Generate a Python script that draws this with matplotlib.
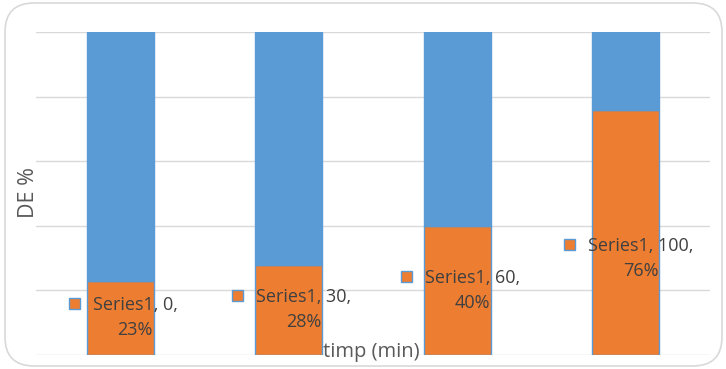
import numpy as np
import matplotlib.pyplot as plt
from matplotlib.patches import FancyBboxPatch, Rectangle

# DE share per sampling time (orange), remainder to 100% (blue)
times = ["0", "30", "60", "100"]
de_values = [0.23, 0.28, 0.40, 0.76]
series_name = "Series1"

# vertical spot of each data label, as axis fraction
label_y = [0.115, 0.14, 0.20, 0.30]

blue = "#5B9BD5"
orange = "#ED7D31"
grid_c = "#D9D9D9"
text_c = "#404040"

plt.rcParams["font.family"] = ["Open Sans", "DejaVu Sans"]

fig = plt.figure(figsize=(7.26, 3.69), dpi=100)
W, H = 726, 369

# rounded chart border
fig.patches.append(FancyBboxPatch((5 / W, 3 / H), 717 / W, 363 / H,
                                  boxstyle="round,pad=0,rounding_size=0.04",
                                  transform=fig.transFigure, fill=False,
                                  edgecolor=grid_c, linewidth=1.2,
                                  mutation_aspect=W / H))

ax = fig.add_axes([36 / W, 14 / H, 674 / W, 323 / H])
x = np.arange(len(times))
rest = [1 - v for v in de_values]

ax.bar(x, de_values, width=0.4, color=orange, edgecolor=blue, linewidth=1, zorder=3)
ax.bar(x, rest, bottom=de_values, width=0.4, color=blue, edgecolor=blue,
       linewidth=1, zorder=3)

ax.set_xlim(-0.5, 3.5)
ax.set_ylim(0, 1)
ax.set_yticks(np.arange(0, 1.01, 0.2))
ax.grid(axis="y", color=grid_c, linewidth=1, zorder=0)
ax.tick_params(length=0, labelleft=False, labelbottom=False)
for s in ax.spines.values():
    s.set_visible(False)

fig.canvas.draw()
renderer = fig.canvas.get_renderer()
for i, (t, v) in enumerate(zip(times, de_values)):
    txt = ax.annotate(f"{series_name}, {t},\n{v:.0%}", (i, label_y[i]),
                      xytext=(15, 0), textcoords="offset pixels",
                      ha="center", va="center", multialignment="center",
                      fontsize=13, color=text_c, linespacing=1.5, zorder=5)
    bb = txt.get_window_extent(renderer)
    # legend key in front of the first text line
    kx = bb.x0 - 24
    ky = bb.y1 - 13
    fig.patches.append(Rectangle((kx / W, ky / H), 11 / W, 11 / H,
                                 transform=fig.transFigure, facecolor=orange,
                                 edgecolor=blue, linewidth=1, zorder=6))

fig.text(28 / W, 1 - 193 / H, "DE %", rotation=90, ha="center", va="center",
         fontsize=15.5, color="#595959")
fig.text(371 / W, 1 - 352 / H, "timp (min)", ha="center", va="center",
         fontsize=14.5, color="#595959")

fig.savefig("out.png", dpi=100)
